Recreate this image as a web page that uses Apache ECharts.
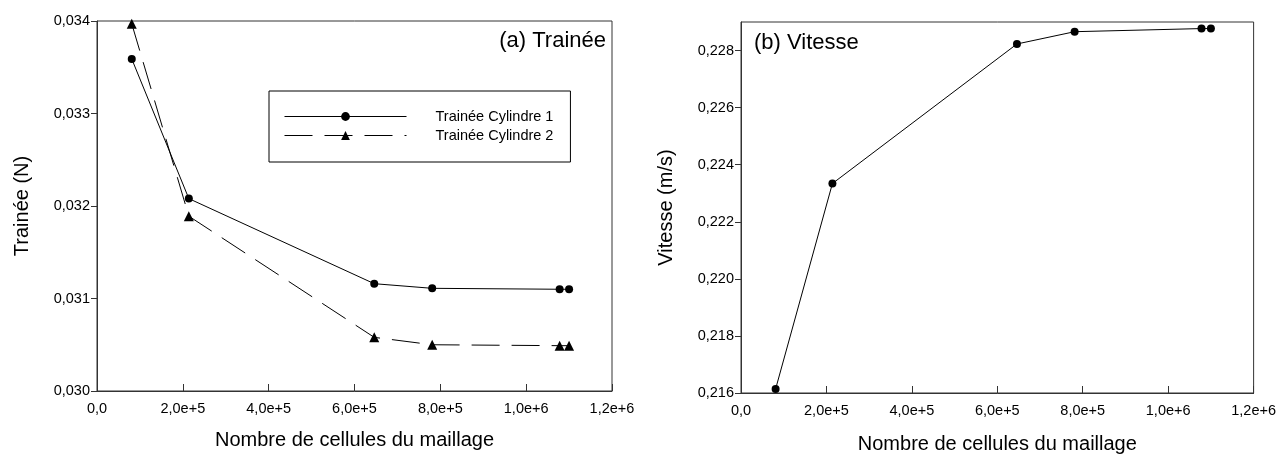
<!DOCTYPE html>
<html>
<head>
<meta charset="utf-8">
<script src="https://cdn.jsdelivr.net/npm/echarts@6/dist/echarts.min.js"></script>
<style>
html,body{margin:0;padding:0;background:#fff;}
#chart{width:1279px;height:459px;}
</style>
</head>
<body>
<div id="chart"></div>
<script>
const cells = [81000, 214000, 646000, 781000, 1078000, 1100000];
const drag1 = [0.03359, 0.03208, 0.03116, 0.03111, 0.03110, 0.03110];
const drag2 = [0.03397, 0.03189, 0.03058, 0.03050, 0.03049, 0.03049];
const speed = [0.21614, 0.22334, 0.22823, 0.22866, 0.22877, 0.22877];
const seriesNames = ['Trainée Cylindre 1', 'Trainée Cylindre 2'];
const panelTitles = ['(a) Trainée', '(b) Vitesse'];
const yNames = ['Trainée (N)', 'Vitesse (m/s)'];
const xName = 'Nombre de cellules du maillage';
const xTicks = [0, 200000, 400000, 600000, 800000, 1000000, 1200000];
const dragTicks = [0.030, 0.031, 0.032, 0.033, 0.034];
const speedTicks = [0.216, 0.218, 0.220, 0.222, 0.224, 0.226, 0.228];

const FONT = 'Liberation Sans, Arial, sans-serif';
function xFmt(v) {
  if (Math.abs(v) < 1e-9) return '0,0';
  const e = Math.floor(Math.log10(v) + 1e-9);
  const m = (v / Math.pow(10, e)).toFixed(1).replace('.', ',');
  return m + 'e+' + e;
}
function yFmt(v) { return v.toFixed(3).replace('.', ','); }
function pairs(xs, ys) { return xs.map((x, i) => [x, ys[i]]); }

const axisLineStyle = { color: '#333', width: 1 };
function xAxis(gi, gap) {
  return {
    type: 'value', gridIndex: gi, min: 0, max: 1200000,
    name: xName, nameLocation: 'middle', nameGap: gap,
    nameTextStyle: { fontSize: 20, color: '#000', fontFamily: FONT },
    axisLine: { show: true, lineStyle: axisLineStyle },
    axisTick: { show: true, inside: true, length: 7, lineStyle: axisLineStyle, customValues: xTicks },
    axisLabel: { formatter: xFmt, fontSize: 14.5, color: '#000', fontFamily: FONT, margin: 10, customValues: xTicks },
    splitLine: { show: false }
  };
}
function yAxis(gi, min, max, ticks, name) {
  return {
    type: 'value', gridIndex: gi, min: min, max: max,
    name: name, nameLocation: 'middle', nameGap: 65,
    nameTextStyle: { fontSize: 20, color: '#000', fontFamily: FONT },
    axisLine: { show: true, lineStyle: axisLineStyle },
    axisTick: { show: true, inside: false, length: 6, lineStyle: axisLineStyle, customValues: ticks },
    axisLabel: { fontSize: 14.5, color: '#000', fontFamily: FONT, margin: 7, formatter: yFmt, customValues: ticks },
    splitLine: { show: false }
  };
}

const chart = echarts.init(document.getElementById('chart'), null, { renderer: 'canvas' });
chart.setOption({
  animation: false,
  backgroundColor: '#fff',
  textStyle: { fontFamily: FONT },
  title: [
    { text: panelTitles[0], right: 673, top: 30, padding: 0,
      textStyle: { fontSize: 22, fontWeight: 'normal', color: '#000', fontFamily: FONT } },
    { text: panelTitles[1], left: 754, top: 32, padding: 0,
      textStyle: { fontSize: 22, fontWeight: 'normal', color: '#000', fontFamily: FONT } }
  ],
  legend: {
    data: seriesNames, orient: 'vertical', left: 269, top: 91,
    padding: [18, 17, 19, 15], itemWidth: 122, itemHeight: 11, itemGap: 4,
    borderColor: '#000', borderWidth: 1,
    lineStyle: { width: 1 },
    textStyle: { fontSize: 14.5, color: '#000', fontFamily: FONT, padding: [0, 0, 0, 24] }
  },
  grid: [
    { left: 97, top: 21, width: 515, height: 370, show: true, borderColor: '#333', borderWidth: 1, containLabel: false },
    { left: 741, top: 22, width: 514, height: 371, show: true, borderColor: '#333', borderWidth: 1, containLabel: false }
  ],
  xAxis: [xAxis(0, 39), xAxis(1, 41)],
  yAxis: [
    yAxis(0, 0.030, 0.034, dragTicks, yNames[0]),
    yAxis(1, 0.216, 0.229, speedTicks, yNames[1])
  ],
  series: [
    { name: seriesNames[0], type: 'line', xAxisIndex: 0, yAxisIndex: 0,
      data: pairs(cells, drag1), symbol: 'circle', symbolSize: 8,
      itemStyle: { color: '#000' }, lineStyle: { color: '#000', width: 1, type: 'solid' } },
    { name: seriesNames[1], type: 'line', xAxisIndex: 0, yAxisIndex: 0,
      data: pairs(cells, drag2), symbol: 'triangle', symbolSize: 10,
      itemStyle: { color: '#000' }, lineStyle: { color: '#000', width: 1, type: [28, 12] } },
    { name: 'Vitesse', type: 'line', xAxisIndex: 1, yAxisIndex: 1,
      data: pairs(cells, speed), symbol: 'circle', symbolSize: 8,
      itemStyle: { color: '#000' }, lineStyle: { color: '#000', width: 1, type: 'solid' } }
  ]
});
</script>
</body>
</html>
